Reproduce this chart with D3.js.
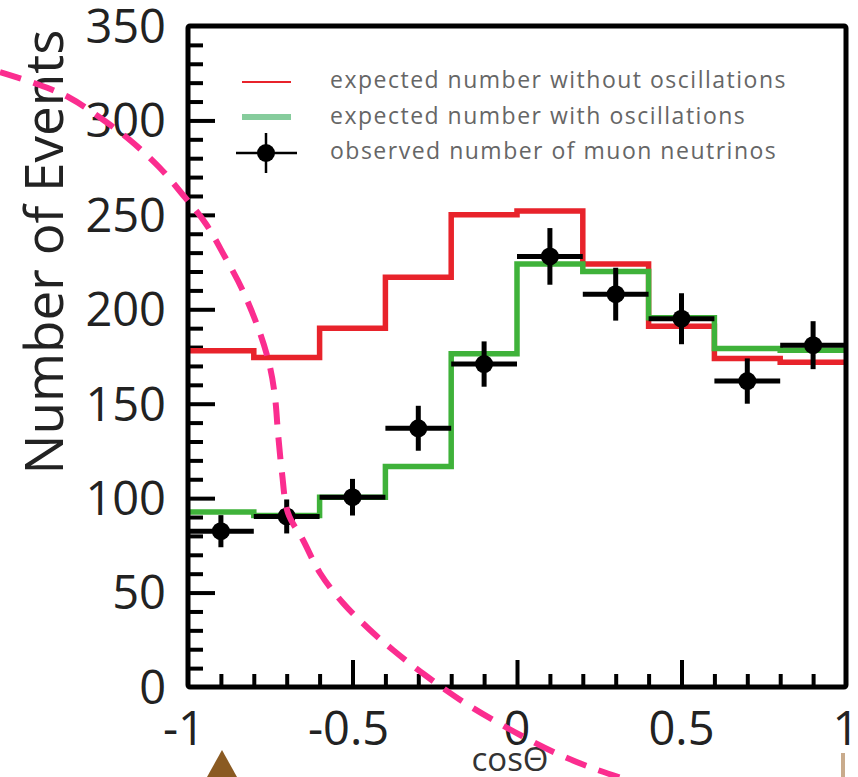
<!DOCTYPE html>
<html>
<head>
<meta charset="utf-8">
<script src="https://cdn.jsdelivr.net/npm/d3@7"></script>
<style>
  body { margin: 0; background: #fff; }
  text { font-family: "Open Sans", "Noto Sans", sans-serif; }
</style>
</head>
<body>
<div id="chart"></div>
<script>
/* chart data */
var binEdges = [-1, -0.8, -0.6, -0.4, -0.2, 0, 0.2, 0.4, 0.6, 0.8, 1];
var binCenters = [-0.9, -0.7, -0.5, -0.3, -0.1, 0.1, 0.3, 0.5, 0.7, 0.9];
var expectedNoOsc = [178, 174.5, 190, 217, 250, 252, 224, 191, 174, 172];
var expectedOsc = [92.6, 90.8, 100.5, 116.7, 176.5, 224, 220, 195.5, 179.3, 178.3];
var observed = [82.5, 90.3, 100.5, 137, 171, 228, 208, 195, 162, 181];
var observedErr = [8.5, 9, 9.7, 11.9, 12, 15, 14, 13.5, 12, 12.7];
var xTicks = [-1, -0.5, 0, 0.5, 1];
var yTicks = [0, 50, 100, 150, 200, 250, 300, 350];
var legendLabels = ['expected number without oscillations',
                    'expected number with oscillations',
                    'observed number of muon neutrinos'];
// hand-drawn pink dashed annotation (screen coords)
var annotCurve = [[0,72],[37,84],[70,98],[102,119],[131,141],[159,167],[183,195],[206,224],
  [225,257],[242,289],[260,333],[270,367],[275,397],[278,433],[282,473],[288,513],[303,540],
  [320,573],[343,603],[370,630],[393,650],[425,675],[465,703],[522,736],[558,754],[592,768],[628,780]];

var W = 858, H = 777;
var M = {left: 188, right: 846, top: 26, bottom: 687};

var svg = d3.select('#chart').append('svg')
  .attr('width', W).attr('height', H);

var x = d3.scaleLinear().domain([-1, 1]).range([M.left, M.right]);
var y = d3.scaleLinear().domain([0, 350]).range([M.bottom, M.top]);

// minor + major ticks (inward)
var yMinor = d3.range(10, 350, 10).filter(function(v) { return v % 50 != 0; });
var yMajor = [50, 100, 150, 200, 250, 300];
svg.append('g')
  .attr('transform', 'translate(' + M.left + ',0)')
  .call(d3.axisRight(y).tickValues(yMinor).tickSize(15).tickFormat(''))
  .call(function(g) { g.select('.domain').remove(); g.selectAll('line').attr('stroke-width', 4); });
svg.append('g')
  .attr('transform', 'translate(' + M.left + ',0)')
  .call(d3.axisRight(y).tickValues(yMajor).tickSize(27).tickFormat(''))
  .call(function(g) { g.select('.domain').remove(); g.selectAll('line').attr('stroke-width', 4); });

var xMinor = d3.range(-9, 10).map(function(i) { return i / 10; })
  .filter(function(v) { return Math.abs(v) != 0.5 && v != 0; });
svg.append('g')
  .attr('transform', 'translate(0,' + M.bottom + ')')
  .call(d3.axisTop(x).tickValues(xMinor).tickSize(13).tickFormat(''))
  .call(function(g) { g.select('.domain').remove(); g.selectAll('line').attr('stroke-width', 4); });
svg.append('g')
  .attr('transform', 'translate(0,' + M.bottom + ')')
  .call(d3.axisTop(x).tickValues([-0.5, 0, 0.5]).tickSize(27).tickFormat(''))
  .call(function(g) { g.select('.domain').remove(); g.selectAll('line').attr('stroke-width', 4); });

// tick labels
svg.append('g').selectAll('text').data(yTicks).enter().append('text')
  .attr('x', 166).attr('y', function(d) { return y(d); })
  .attr('dy', '0.36em')
  .attr('text-anchor', 'end')
  .attr('font-size', 47).attr('fill', '#222')
  .text(function(d) { return d; });

svg.append('g').selectAll('text').data(xTicks).enter().append('text')
  .attr('x', function(d) { return x(d) - (d < 0 ? 4 : 0); })
  .attr('y', 745)
  .attr('text-anchor', 'middle')
  .attr('font-size', 47).attr('fill', '#222')
  .text(function(d) { return d; });

// axis titles
svg.append('text')
  .attr('transform', 'translate(63,252) rotate(-90)')
  .attr('text-anchor', 'middle')
  .attr('font-size', 53).attr('fill', '#222')
  .text('Number of Events');

svg.append('text')
  .attr('x', 510).attr('y', 771)
  .attr('text-anchor', 'middle')
  .attr('font-size', 33).attr('fill', '#333')
  .text('cos\u0398');

// step histograms
var stepLine = d3.line()
  .x(function(d) { return x(d[0]); })
  .y(function(d) { return y(d[1]); })
  .curve(d3.curveStepAfter);

var stepPoints = function(vals) {
  var pts = vals.map(function(v, i) { return [binEdges[i], v]; });
  pts.push([binEdges[binEdges.length - 1], vals[vals.length - 1]]);
  return pts;
};

svg.append('path').datum(stepPoints(expectedNoOsc))
  .attr('d', stepLine).attr('fill', 'none')
  .attr('stroke', '#e8232b').attr('stroke-width', 5.5);
svg.append('path').datum(stepPoints(expectedOsc))
  .attr('d', stepLine).attr('fill', 'none')
  .attr('stroke', '#3fb23a').attr('stroke-width', 5.5);

// observed points with error bars
var pts = svg.append('g').selectAll('g').data(observed).enter().append('g');
pts.append('line')
  .attr('x1', function(d, i) { return x(binCenters[i] - 0.1); })
  .attr('x2', function(d, i) { return x(binCenters[i] + 0.1); })
  .attr('y1', function(d) { return y(d); })
  .attr('y2', function(d) { return y(d); })
  .attr('stroke', '#000').attr('stroke-width', 5);
pts.append('line')
  .attr('x1', function(d, i) { return x(binCenters[i]); })
  .attr('x2', function(d, i) { return x(binCenters[i]); })
  .attr('y1', function(d, i) { return y(d - observedErr[i]); })
  .attr('y2', function(d, i) { return y(d + observedErr[i]); })
  .attr('stroke', '#000').attr('stroke-width', 5);
pts.append('circle')
  .attr('cx', function(d, i) { return x(binCenters[i]); })
  .attr('cy', function(d) { return y(d); })
  .attr('r', 9).attr('fill', '#000');

// frame
svg.append('rect')
  .attr('x', M.left).attr('y', M.top)
  .attr('width', M.right - M.left).attr('height', M.bottom - M.top)
  .attr('rx', 2)
  .attr('fill', 'none').attr('stroke', '#000').attr('stroke-width', 5);

// legend
var legend = svg.append('g');
legend.append('line').attr('x1', 242).attr('x2', 291).attr('y1', 82).attr('y2', 82)
  .attr('stroke', '#e8232b').attr('stroke-width', 2);
legend.append('line').attr('x1', 242).attr('x2', 291).attr('y1', 117).attr('y2', 117)
  .attr('stroke', '#86cc9c').attr('stroke-width', 6);
legend.append('line').attr('x1', 236).attr('x2', 297).attr('y1', 153).attr('y2', 153)
  .attr('stroke', '#000').attr('stroke-width', 2.5);
legend.append('line').attr('x1', 266).attr('x2', 266).attr('y1', 133).attr('y2', 173)
  .attr('stroke', '#000').attr('stroke-width', 2.5);
legend.append('circle').attr('cx', 266).attr('cy', 153).attr('r', 9).attr('fill', '#000');
legend.selectAll('text.lab').data(legendLabels).enter().append('text')
  .attr('class', 'lab')
  .attr('x', 330).attr('y', function(d, i) { return 88 + i * 35.5; })
  .attr('font-size', 23).attr('letter-spacing', 1.5).attr('fill', '#666')
  .text(function(d) { return d; });

// pink dashed annotation
svg.append('path').datum(annotCurve)
  .attr('d', d3.line().curve(d3.curveCatmullRom))
  .attr('fill', 'none').attr('stroke', '#fb2d8f')
  .attr('stroke-width', 6).attr('stroke-dasharray', '22,13');

// small markers below the axis
svg.append('path')
  .attr('d', 'M222,750 L237,777 L207,777 Z')
  .attr('fill', '#8a5a22');
svg.append('line').attr('x1', 843).attr('x2', 843).attr('y1', 753).attr('y2', 777)
  .attr('stroke', '#c9ab8c').attr('stroke-width', 4);
</script>
</body>
</html>
